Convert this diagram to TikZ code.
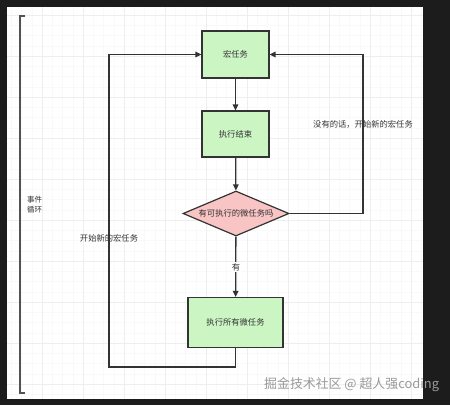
\documentclass[tikz,border=0pt]{standalone}
\usepackage{fontspec}
\newfontfamily\cjk{Noto Sans CJK SC}
\usetikzlibrary{shapes.geometric,arrows.meta}
\definecolor{bgdark}{HTML}{1C1C1C}
\definecolor{edgec}{HTML}{333333}
\definecolor{boxgreen}{HTML}{CCF5C4}
\definecolor{diapink}{HTML}{F8C4C4}
\definecolor{gridmaj}{HTML}{EEEEEE}
\definecolor{gridmin}{HTML}{F9F9F9}
\tikzset{
  box/.style={draw=edgec, line width=1.2pt, fill=boxgreen, minimum width=#1, inner sep=0pt, font=\cjk\fontsize{8.3}{9}\selectfont, text=edgec},
  decision/.style={diamond, draw=edgec, line width=1.2pt, fill=diapink, minimum width=106pt, minimum height=45pt, aspect=2.36, inner sep=0pt, font=\cjk\fontsize{8.3}{9}\selectfont, text=edgec},
  flow/.style={draw=edgec, line width=1.3pt, -{Triangle[length=6pt,width=5.5pt]}},
  lbl/.style={font=\cjk\fontsize{8.3}{9}\selectfont, text=edgec, inner sep=1pt},
}
\begin{document}
\begin{tikzpicture}[x=1pt,y=-1pt]
\useasboundingbox (0,0) rectangle (450,405);
\fill[bgdark] (0,0) rectangle (450,405);
\fill[white] (7,7) rectangle (423,399);
\begin{scope}
\clip (7,7) rectangle (423,399);
\foreach \i in {-40,...,40} {
  \draw[gridmin, line width=0.4pt] ({329+10.25*\i},7) -- ({329+10.25*\i},399);
  \draw[gridmin, line width=0.4pt] (7,{261+10.25*\i}) -- (423,{261+10.25*\i});
}
\foreach \i in {-10,...,10} {
  \draw[gridmaj, line width=0.8pt] ({329+41*\i},7) -- ({329+41*\i},399);
  \draw[gridmaj, line width=0.8pt] (7,{261+41*\i}) -- (423,{261+41*\i});
}
\end{scope}
% bracket
\draw[edgec!85, line width=1.2pt] (25,16) -- (20,16) -- (20,393) -- (25,393);
\node[lbl, align=left, anchor=west, font=\cjk\fontsize{7.5}{10}\selectfont] (loop) at (26,205) {事件\\循环};
% nodes
\node[box=67pt, minimum height=47pt] (macro) at (235.5,54.5) {宏任务};
\node[box=67pt, minimum height=46pt] (exec) at (235.5,134) {执行结束};
\node[decision] (dia) at (236,213.5) {有可执行的微任务吗};
\node[box=95pt, minimum height=50pt] (all) at (235.5,322.5) {执行所有微任务};
\coordinate (bl) at (109,367);
\coordinate (rt) at (363,54.5);
% edges
\draw[flow] (macro) -- (exec);
\draw[flow] (exec) -- (dia);
\draw[flow] (dia) -- (all);
\draw[flow] (all.south) |- (bl) |- (macro.west);
\draw[flow] (dia.east) -| (rt) -- (macro.east);
% labels
\node[lbl, fill=white] (yes) at (236,267) {有};
\node[lbl] (newl) at (109,238) {开始新的宏任务};
\node[lbl] (newr) at (363,124) {没有的话，开始新的宏任务};
% watermark
\node[font=\cjk\fontsize{12.9}{14}\selectfont, text=black!40, inner sep=0pt, anchor=west] (wm) at (264,385) {掘金技术社区 @ 超人强coding};
\end{tikzpicture}
\end{document}
